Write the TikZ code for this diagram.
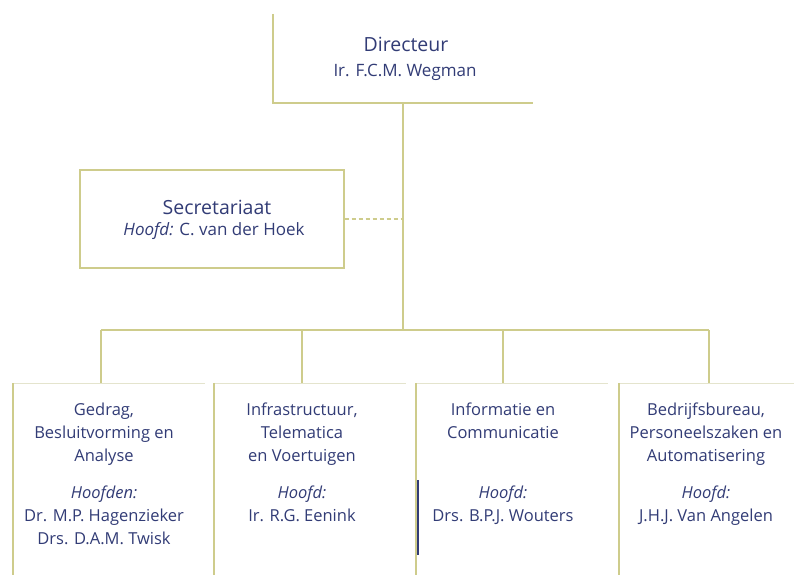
\documentclass[tikz,border=0pt]{standalone}
\usepackage{fontspec}
\setmainfont{Open Sans}
\definecolor{linecol}{RGB}{206,204,140}
\definecolor{faintcol}{RGB}{228,228,205}
\definecolor{txtcol}{RGB}{50,60,118}
\begin{document}
\begin{tikzpicture}[x=1pt,y=-1pt,
  conn/.style={draw=linecol,line width=1.6pt},
  thick edge/.style={draw=linecol,line width=2.8pt},
  faint edge/.style={draw=faintcol,line width=1pt},
  unitlabel/.style={text=txtcol,font=\fontsize{16.5}{23}\selectfont,align=center,anchor=north,inner sep=0pt},
  title/.style={text=txtcol,font=\fontsize{19.5}{22}\selectfont,inner sep=0pt},
  subtitle/.style={text=txtcol,font=\fontsize{17}{20}\selectfont,inner sep=0pt}]
\useasboundingbox[fill=white] (0,0) rectangle (794,575);

% Directeur
\coordinate (dtop) at (273,14);
\coordinate (dcorner) at (273,103);
\coordinate (dright) at (533,103);
\coordinate (dmid) at (403,103);
\draw[thick edge] (dtop) -- (dcorner) -- (dright);
\node[title] (dir) at (406,44) {Directeur};
\node[subtitle] (dirname) at (405,72) {Ir. F.C.M. Wegman};

% bus
\coordinate (bus) at (403,330);
\coordinate (b1) at (101,330);
\coordinate (b2) at (302,330);
\coordinate (b3) at (503,330);
\coordinate (b4) at (709,330);
\draw[conn] (dmid) -- (bus);
\draw[conn] (b1) -- (b4);

% Secretariaat
\node[draw=linecol,line width=1.4pt,minimum width=264pt,minimum height=98pt,inner sep=0pt] (sec) at (212,219) {};
\node[title] (sect) at (217,207) {Secretariaat};
\node[subtitle] (secn) at (214,231) {\textit{Hoofd:} C. van der Hoek};
\coordinate (secjoin) at (403,219);
\draw[draw=linecol,line width=1.2pt,dash pattern=on 4pt off 3pt] (sec.east) -- (secjoin);

% bottom units
\coordinate (u1) at (13,383);
\coordinate (u2) at (214,383);
\coordinate (u3) at (416,383);
\coordinate (u4) at (619,383);
\draw[conn] (b1) -- (101,383);
\draw[conn] (b2) -- (302,383);
\draw[conn] (b3) -- (503,383);
\draw[conn] (b4) -- (709,383);

\foreach \u/\r in {u1/205, u2/406, u3/608, u4/794}{
  \draw[faint edge] (\u) -- (\r,383);
  \draw[thick edge] (\u) -- (\u |- 0,575);
}
% stray mark
\draw[draw=txtcol,line width=1.2pt] (418,480) -- (418,555);

\node[unitlabel] (t1) at (104,403) {Gedrag,\\Besluitvorming en\\Analyse\\[14pt]\textit{Hoofden:}\\Dr. M.P. Hagenzieker\\Drs. D.A.M. Twisk};
\node[unitlabel] (t2) at (302,403) {Infrastructuur,\\Telematica\\en Voertuigen\\[14pt]\textit{Hoofd:}\\Ir. R.G. Eenink};
\node[unitlabel] (t3) at (503,403) {Informatie en\\Communicatie\\[37pt]\textit{Hoofd:}\\Drs. B.P.J. Wouters};
\node[unitlabel] (t4) at (706,403) {Bedrijfsbureau,\\Personeelszaken en\\Automatisering\\[14pt]\textit{Hoofd:}\\J.H.J. Van Angelen};
\end{tikzpicture}
\end{document}
